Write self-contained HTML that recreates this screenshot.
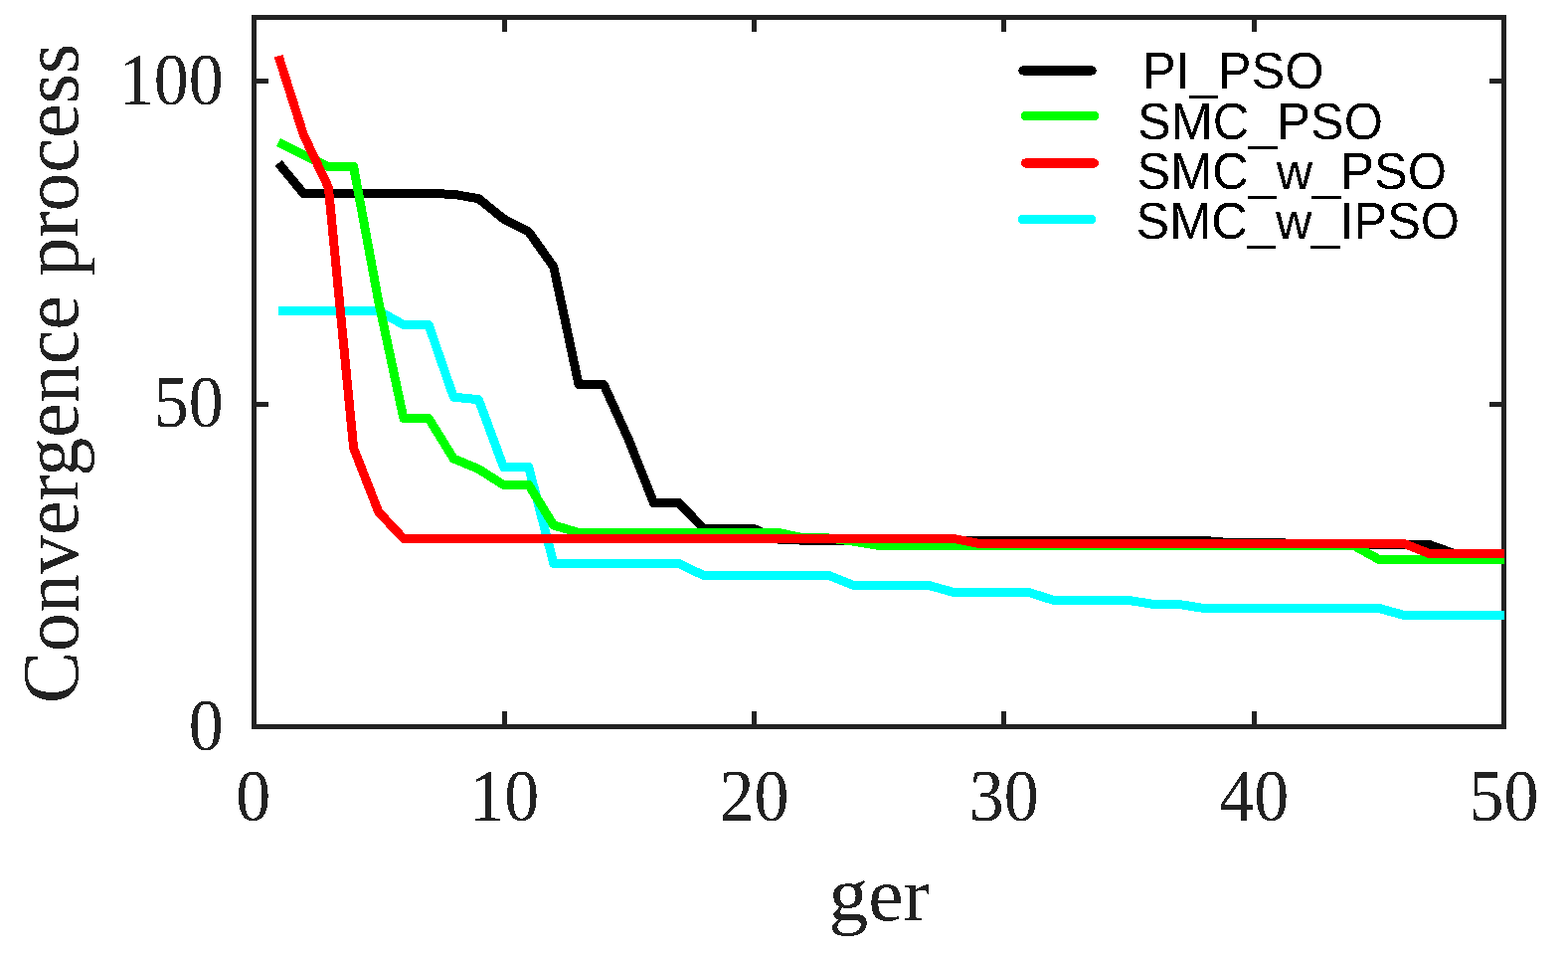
<!DOCTYPE html>
<html><head><meta charset="utf-8"><title>Convergence process</title>
<style>
html,body{margin:0;padding:0;background:#fff;}
svg{display:block;}
</style></head>
<body>
<svg width="1577" height="960" viewBox="0 0 1577 960">
<defs><filter id="al" filterUnits="userSpaceOnUse" x="0" y="0" width="1577" height="960" color-interpolation-filters="sRGB"><feComponentTransfer><feFuncA type="discrete" tableValues="0 1"/></feComponentTransfer></filter></defs>
<rect x="0" y="0" width="1577" height="960" fill="#ffffff"/>
<g stroke="#222222" stroke-width="5" fill="none" shape-rendering="crispEdges">
<rect x="255.5" y="17.5" width="1257.0" height="713.0"/>
<line x1="507.5" y1="730.5" x2="507.5" y2="715"/>
<line x1="507.5" y1="17.5" x2="507.5" y2="32"/>
<line x1="758.5" y1="730.5" x2="758.5" y2="715"/>
<line x1="758.5" y1="17.5" x2="758.5" y2="32"/>
<line x1="1009.5" y1="730.5" x2="1009.5" y2="715"/>
<line x1="1009.5" y1="17.5" x2="1009.5" y2="32"/>
<line x1="1261.5" y1="730.5" x2="1261.5" y2="715"/>
<line x1="1261.5" y1="17.5" x2="1261.5" y2="32"/>
<line x1="255.5" y1="81.5" x2="270" y2="81.5"/>
<line x1="1512.5" y1="81.5" x2="1498" y2="81.5"/>
<line x1="255.5" y1="406.5" x2="270" y2="406.5"/>
<line x1="1512.5" y1="406.5" x2="1498" y2="406.5"/>
</g>
<g fill="none" stroke-width="9" stroke-linejoin="round" stroke-linecap="butt" shape-rendering="crispEdges">
<polyline stroke="#00ffff" points="280.1,312.5 305.3,312.5 330.4,312.5 355.6,312.5 380.7,312.5 405.9,326.5 431.1,326.5 456.2,399.2 481.4,401.7 506.5,469.5 531.7,469.5 556.8,566.5 582.0,566.5 607.2,566.5 632.3,566.5 657.5,566.5 682.6,566.5 707.8,578.5 733.0,578.5 758.1,578.5 783.3,578.5 808.4,578.5 833.6,578.5 858.8,588.5 883.9,588.5 909.1,588.5 934.2,588.5 959.4,595.5 984.6,595.5 1009.7,595.5 1034.9,595.5 1060.0,603.5 1085.2,603.5 1110.3,603.5 1135.5,603.5 1160.7,607.5 1185.8,607.5 1211.0,611.5 1236.1,611.5 1261.3,611.5 1286.5,611.5 1311.6,611.5 1336.8,611.5 1361.9,611.5 1387.1,611.5 1412.3,618.5 1437.4,618.5 1462.6,618.5 1487.7,618.5 1512.9,618.5"/>
<path stroke="#00ffff" stroke-width="3" d="M380.13,312.50h1.2 M405.29,326.50h1.2 M430.45,326.50h1.2 M455.61,399.20h1.2 M480.77,401.70h1.2 M505.93,469.50h1.2 M531.09,469.50h1.2 M556.25,566.50h1.2 M682.04,566.50h1.2 M707.20,578.50h1.2 M833.00,578.50h1.2 M858.16,588.50h1.2 M933.63,588.50h1.2 M958.79,595.50h1.2 M1034.27,595.50h1.2 M1059.43,603.50h1.2 M1134.90,603.50h1.2 M1160.06,607.50h1.2 M1185.22,607.50h1.2 M1210.38,611.50h1.2 M1386.50,611.50h1.2 M1411.65,618.50h1.2"/>
<polyline stroke="#000000" points="280.1,164.0 305.3,194.5 330.4,194.5 355.6,194.5 380.7,194.5 405.9,194.5 431.1,194.5 456.2,195.3 481.4,199.7 506.5,220.0 531.7,233.0 556.8,268.3 582.0,386.5 607.2,386.5 632.3,442.0 657.5,505.5 682.6,505.5 707.8,531.5 733.0,531.5 758.1,531.5 783.3,542.2 808.4,543.2 833.6,543.5 858.8,543.5 883.9,543.5 909.1,543.5 934.2,543.5 959.4,543.5 984.6,543.5 1009.7,543.5 1034.9,543.5 1060.0,543.5 1085.2,543.5 1110.3,543.5 1135.5,543.5 1160.7,543.5 1185.8,543.5 1211.0,543.5 1236.1,545.5 1261.3,545.5 1286.5,545.5 1311.6,547.5 1336.8,547.5 1361.9,547.5 1387.1,547.5 1412.3,547.5 1437.4,547.5 1462.6,556.5 1487.7,556.5 1512.9,556.5"/>
<path stroke="#000000" stroke-width="3" d="M304.66,194.50h1.2 M430.45,194.50h1.2 M455.61,195.30h1.2 M480.77,199.70h1.2 M505.93,220.00h1.2 M531.09,233.00h1.2 M556.25,268.30h1.2 M581.41,386.50h1.2 M606.57,386.50h1.2 M631.73,442.00h1.2 M656.88,505.50h1.2 M682.04,505.50h1.2 M707.20,531.50h1.2 M757.52,531.50h1.2 M782.68,542.20h1.2 M807.84,543.20h1.2 M833.00,543.50h1.2 M1210.38,543.50h1.2 M1235.54,545.50h1.2 M1285.86,545.50h1.2 M1311.02,547.50h1.2 M1436.81,547.50h1.2 M1461.97,556.50h1.2"/>
<polyline stroke="#00ff00" points="280.1,143.0 305.3,155.8 330.4,167.5 355.6,167.5 380.7,303.0 405.9,420.5 431.1,420.5 456.2,461.0 481.4,471.5 506.5,487.5 531.7,487.5 556.8,528.0 582.0,535.5 607.2,535.5 632.3,535.5 657.5,535.5 682.6,535.5 707.8,535.5 733.0,535.5 758.1,535.5 783.3,535.5 808.4,540.9 833.6,541.0 858.8,544.2 883.9,548.5 909.1,548.5 934.2,548.5 959.4,548.5 984.6,548.5 1009.7,548.5 1034.9,548.5 1060.0,548.5 1085.2,548.5 1110.3,548.5 1135.5,548.5 1160.7,548.5 1185.8,548.5 1211.0,548.5 1236.1,548.5 1261.3,548.5 1286.5,548.5 1311.6,548.5 1336.8,548.5 1361.9,548.5 1387.1,562.5 1412.3,562.5 1437.4,562.5 1462.6,562.5 1487.7,562.5 1512.9,562.5"/>
<path stroke="#00ff00" stroke-width="3" d="M304.66,155.80h1.2 M329.82,167.50h1.2 M354.98,167.50h1.2 M380.13,303.00h1.2 M405.29,420.50h1.2 M430.45,420.50h1.2 M455.61,461.00h1.2 M480.77,471.50h1.2 M505.93,487.50h1.2 M531.09,487.50h1.2 M556.25,528.00h1.2 M581.41,535.50h1.2 M782.68,535.50h1.2 M807.84,540.90h1.2 M833.00,541.00h1.2 M858.16,544.20h1.2 M883.31,548.50h1.2 M1361.34,548.50h1.2 M1386.50,562.50h1.2"/>
<polyline stroke="#ff0000" points="280.1,56.3 305.3,135.5 330.4,188.5 355.6,450.3 380.7,514.6 405.9,541.5 431.1,541.5 456.2,541.5 481.4,541.5 506.5,541.5 531.7,541.5 556.8,541.5 582.0,541.5 607.2,541.5 632.3,541.5 657.5,541.5 682.6,541.5 707.8,541.5 733.0,541.5 758.1,541.5 783.3,541.5 808.4,541.5 833.6,541.5 858.8,541.5 883.9,541.5 909.1,541.5 934.2,541.5 959.4,541.5 984.6,546.5 1009.7,546.5 1034.9,546.5 1060.0,546.5 1085.2,546.5 1110.3,546.5 1135.5,546.5 1160.7,546.5 1185.8,546.5 1211.0,546.5 1236.1,546.5 1261.3,546.5 1286.5,546.5 1311.6,546.5 1336.8,546.5 1361.9,546.5 1387.1,546.5 1412.3,546.5 1437.4,556.5 1462.6,556.5 1487.7,556.5 1512.9,556.5"/>
<path stroke="#ff0000" stroke-width="3" d="M304.66,135.50h1.2 M329.82,188.50h1.2 M354.98,450.30h1.2 M380.13,514.60h1.2 M405.29,541.50h1.2 M958.79,541.50h1.2 M983.95,546.50h1.2 M1411.65,546.50h1.2 M1436.81,556.50h1.2"/>
</g>
<g font-family="'Liberation Serif',serif" font-size="70" fill="#222222" filter="url(#al)">
<g text-anchor="middle">
<text transform="translate(254.8,825) scale(1,1.045)">0</text>
<text transform="translate(507.3,825) scale(1,1.045)">10</text>
<text transform="translate(758.6,825) scale(1,1.045)">20</text>
<text transform="translate(1009.7,825) scale(1,1.045)">30</text>
<text transform="translate(1261.2,825) scale(1,1.045)">40</text>
<text transform="translate(1512.5,825) scale(1,1.045)">50</text>
</g>
<g text-anchor="end">
<text transform="translate(224.8,754.2) scale(1,1.045)">0</text>
<text transform="translate(224.8,428.7) scale(1,1.045)">50</text>
<text transform="translate(224.8,105.1) scale(1,1.045)">100</text>
</g>
</g>
<g font-family="'Liberation Serif',serif" font-size="80" fill="#222222" text-anchor="middle" filter="url(#al)">
<text transform="translate(884.2,925.3) scale(0.995,0.96)">ger</text>
<text transform="translate(78.2,375.3) rotate(-90) scale(0.975,1)">Convergence process</text>
</g>
<g stroke-width="9.3" stroke-linecap="round" shape-rendering="crispEdges">
<line x1="1029" y1="70.9" x2="1098" y2="70.9" stroke="#000000"/>
<line x1="1031.5" y1="116.5" x2="1100.5" y2="116.5" stroke="#00ff00"/>
<line x1="1031.5" y1="164" x2="1100.5" y2="164" stroke="#ff0000"/>
<line x1="1028.5" y1="220.5" x2="1097.5" y2="220.5" stroke="#00ffff"/>
</g>
<g font-family="'Liberation Sans',sans-serif" font-size="52.5" fill="#000000" filter="url(#al)">
<text transform="translate(1149,88.75) scale(0.962,1)">PI_PSO</text>
<text transform="translate(1144,139.8) scale(0.962,1)">SMC_PSO</text>
<text transform="translate(1143.5,190) scale(0.962,1)">SMC_w_PSO</text>
<text transform="translate(1142.6,240) scale(0.962,1)">SMC_w_IPSO</text>
</g>
</svg>
</body></html>
